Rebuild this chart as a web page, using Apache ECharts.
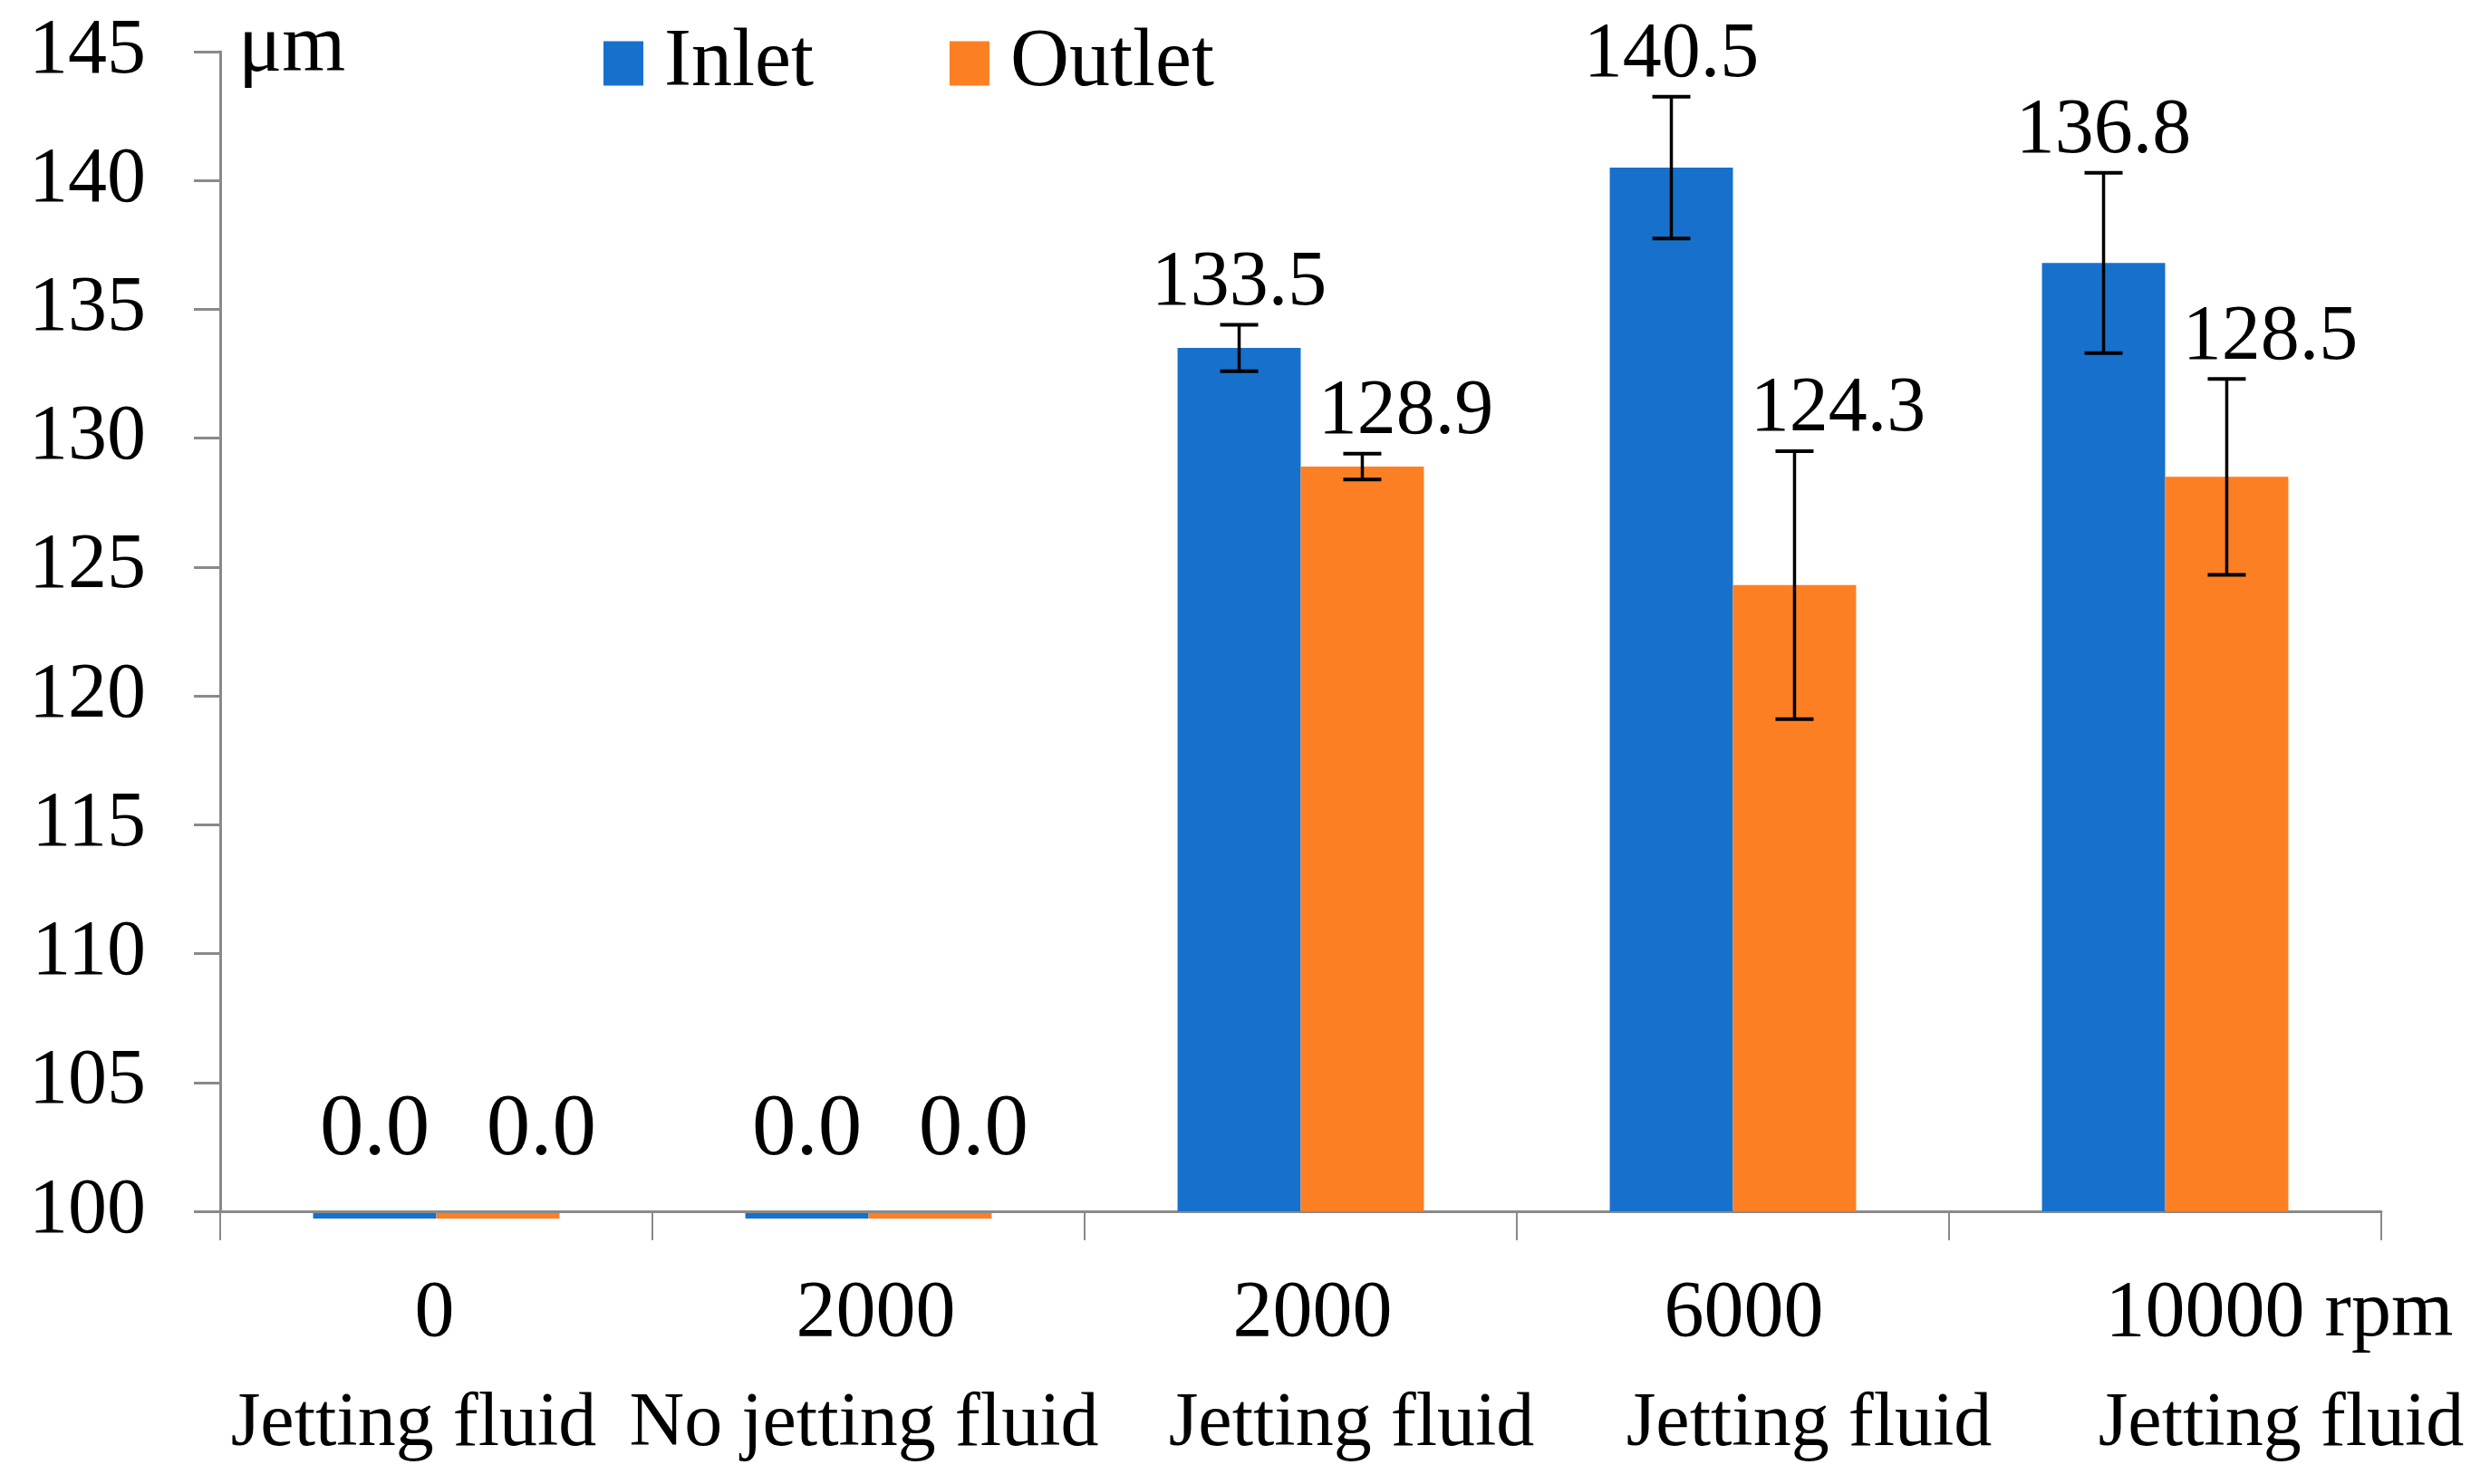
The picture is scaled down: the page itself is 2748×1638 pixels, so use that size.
<!DOCTYPE html>
<html>
<head>
<meta charset="utf-8">
<script src="https://cdn.jsdelivr.net/npm/echarts@6/dist/echarts.min.js"></script>
<style>
  html, body { margin: 0; padding: 0; background: #fff; }
  #chart { width: 2748px; height: 1638px; }
</style>
</head>
<body>
<div id="chart"></div>
<script>
// ---------------- data ----------------
const categories = ['0', '2000', '2000', '6000', '10000'];
const conditions = ['Jetting fluid', 'No jetting fluid', 'Jetting fluid', 'Jetting fluid', 'Jetting fluid'];
const xUnit = 'rpm';
const yUnit = 'μm';
const seriesNames = ['Inlet', 'Outlet'];
const inletValues = [0, 0, 133.5, 140.5, 136.8];
const outletValues = [0, 0, 128.9, 124.3, 128.5];
const inletErrors = [0, 0, 0.9, 2.75, 3.5];
const outletErrors = [0, 0, 0.5, 5.2, 3.8];
const yMin = 100, yMax = 145, yStep = 5;

// ---------------- style ----------------
const FONT = '"Liberation Serif", "Times New Roman", serif';
const BLUE = '#1771cc';
const ORANGE = '#fd7f23';
const AXIS_GRAY = '#8a8a8a';
const BAR_FRAC = 0.285;
// horizontal shift of the two label lines for each category (px)
const numShift = [-2, 8, 13, 12, 126];
const condShift = [-25, -5, 56, 84, 128];
// horizontal shift of the value labels, per side (inlet, outlet)
const valueLabelShift = { '-1': 0, '1': 48 };

const rich = {};
categories.forEach((c, i) => {
  const pn = numShift[i] >= 0 ? [0, 0, 0, 2 * numShift[i]] : [0, -2 * numShift[i], 0, 0];
  const pd = condShift[i] >= 0 ? [0, 0, 0, 2 * condShift[i]] : [0, -2 * condShift[i], 0, 0];
  rich['n' + i] = { fontSize: 88, fontFamily: FONT, color: '#000', lineHeight: 122, padding: pn };
  rich['d' + i] = { fontSize: 84, fontFamily: FONT, color: '#000', lineHeight: 122, padding: pd };
});

const xData = categories.map((c, i) => c + '\n' + conditions[i]);

function errData(values, errors) {
  return values.map((v, i) => [i, v, errors[i]]);
}

function makeRender(side) {
  return function (params, api) {
    const ci = api.value(0), v = api.value(1), e = api.value(2);
    const band = api.size([1, 0])[0];
    const bw = band * BAR_FRAC;
    const basePt = api.coord([ci, yMin]);
    const cx = basePt[0] + side * bw / 2;
    const lx = cx + valueLabelShift[String(side)];
    const baseY = basePt[1];
    const color = side < 0 ? BLUE : ORANGE;
    const children = [];
    const label = v.toFixed(1);
    if (v <= yMin) {
      children.push({ type: 'rect', shape: { x: cx - bw / 2, y: baseY + 2, width: bw, height: 6 }, style: { fill: color } });
      children.push({ type: 'text', style: { text: label, x: lx, y: baseY - 88, fill: '#000', fontSize: 97, fontFamily: FONT, align: 'center', verticalAlign: 'middle' } });
    } else {
      const hi = api.coord([ci, v + e])[1];
      const lo = api.coord([ci, v - e])[1];
      const cap = 21;
      children.push({ type: 'line', shape: { x1: cx, y1: hi, x2: cx, y2: lo }, style: { stroke: '#000', lineWidth: 3.5 } });
      children.push({ type: 'line', shape: { x1: cx - cap, y1: hi, x2: cx + cap, y2: hi }, style: { stroke: '#000', lineWidth: 4 } });
      children.push({ type: 'line', shape: { x1: cx - cap, y1: lo, x2: cx + cap, y2: lo }, style: { stroke: '#000', lineWidth: 4 } });
      children.push({ type: 'text', style: { text: label, x: lx, y: hi - 45, fill: '#000', fontSize: 86, fontFamily: FONT, align: 'center', verticalAlign: 'middle' } });
    }
    return { type: 'group', children };
  };
}

const chart = echarts.init(document.getElementById('chart'), null, { renderer: 'canvas' });
chart.setOption({
  animation: false,
  backgroundColor: '#fff',
  grid: { left: 243, right: 120, top: 57, bottom: 301, containLabel: false },
  legend: {
    data: seriesNames,
    left: 661, top: 15,
    icon: 'rect', itemWidth: 44, itemHeight: 49, itemGap: 150,
    textStyle: { fontSize: 90, fontFamily: FONT, color: '#000', padding: [0, 0, 0, 18], lineHeight: 100 }
  },
  xAxis: {
    type: 'category',
    data: xData,
    boundaryGap: true,
    axisLine: { lineStyle: { color: AXIS_GRAY, width: 3 } },
    axisTick: { show: true, length: 32, lineStyle: { color: AXIS_GRAY, width: 2 } },
    axisLabel: {
      interval: 0, margin: 53,
      formatter: function (val, idx) {
        const num = categories[idx] + (idx === categories.length - 1 ? ' ' + xUnit : '');
        return '{n' + idx + '|' + num + '}\n{d' + idx + '|' + conditions[idx] + '}';
      },
      rich: rich
    },
    splitLine: { show: false }
  },
  yAxis: {
    type: 'value',
    min: yMin, max: yMax, interval: yStep,
    name: yUnit,
    nameLocation: 'end',
    nameGap: 3,
    nameTextStyle: { fontSize: 90, fontFamily: FONT, color: '#000', align: 'left', verticalAlign: 'middle', padding: [0, 0, 0, 20] },
    axisLine: { show: true, lineStyle: { color: AXIS_GRAY, width: 3 } },
    axisTick: { show: true, length: 29, lineStyle: { color: AXIS_GRAY, width: 3 } },
    axisLabel: { fontSize: 86, fontFamily: FONT, color: '#000', margin: 82 },
    splitLine: { show: false }
  },
  series: [
    { name: seriesNames[0], type: 'bar', data: inletValues, barWidth: (BAR_FRAC * 100) + '%', barGap: '0%', itemStyle: { color: BLUE } },
    { name: seriesNames[1], type: 'bar', data: outletValues, barWidth: (BAR_FRAC * 100) + '%', barGap: '0%', itemStyle: { color: ORANGE } },
    { name: 'Inlet error', type: 'custom', data: errData(inletValues, inletErrors), renderItem: makeRender(-1), encode: { x: 0, y: 1 }, z: 5, silent: true },
    { name: 'Outlet error', type: 'custom', data: errData(outletValues, outletErrors), renderItem: makeRender(1), encode: { x: 0, y: 1 }, z: 5, silent: true }
  ]
});
</script>
</body>
</html>
